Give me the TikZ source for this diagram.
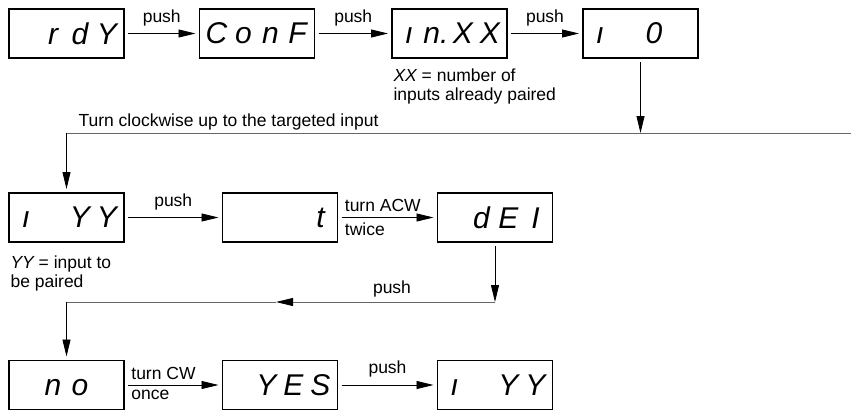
\documentclass[tikz,border=0pt]{standalone}
\usepackage{fontspec}
\setmainfont{Liberation Sans}
\usetikzlibrary{arrows.meta}
\newcommand\seg[1]{\makebox[27pt]{#1}}
\newcommand\disp[4]{{\fontsize{30}{30}\selectfont\itshape\vphantom{0}\seg{#1}\seg{#2}\seg{#3}\seg{#4}}}
\begin{document}
\begin{tikzpicture}[x=1pt,y=-1pt,
	>={Triangle[length=17pt,width=8pt,color=black]},
	every node/.style={font=\fontsize{17.5}{19}\selectfont},
	screen/.style={draw,line width=1.2pt,minimum width=115pt,minimum height=49pt,inner sep=0pt,outer sep=4pt},
	flow/.style={->,line width=0.8pt},
	back/.style={line width=0.8pt,draw=black!60}]
	\useasboundingbox (0,0) rectangle (851,410);
	\node[screen] (rdy) at (66.5,33.5) {\disp{}{r}{d}{Y}};
	\node[screen] (conf) at (257,33.5) {\disp{C}{o}{n}{F}};
	\node[screen] (inxx) at (449.5,33.5) {\disp{ı}{n.}{X}{X}};
	\node[screen] (izero) at (640.5,33.5) {\disp{ı}{}{0}{}};
	\node[screen] (iyy) at (66.5,217.5) {\disp{ı}{}{Y}{Y}};
	\node[screen] (tbox) at (280,217.5) {\disp{}{}{}{t}};
	\node[screen] (del) at (495,217.5) {\disp{}{d}{E}{I}};
	\node[screen] (no) at (66.5,385) {\disp{}{n}{o}{}};
	\node[screen] (yes) at (280,385) {\disp{}{Y}{E}{S}};
	\node[screen] (iyyb) at (495,385) {\disp{ı}{}{Y}{Y}};
	\draw[flow] (rdy) -- node[above=4pt] (p1) {push} (conf);
	\draw[flow] (conf) -- node[above=4pt] (p2) {push} (inxx);
	\draw[flow] (inxx) -- node[above=4pt] (p3) {push} (izero);
	\node[anchor=base west,align=left] (xxnote) at (390,100) {{\itshape XX} = number of\\inputs already paired};
	\coordinate (k1) at (851,133);
	\draw[flow] (izero) -- (izero |- k1);
	\draw[back] (k1) -- (iyy |- k1);
	\draw[flow] (iyy |- k1) -- (iyy);
	\node[anchor=base west] (turnnote) at (75,126) {Turn clockwise up to the targeted input};
	\draw[flow] (iyy) -- node[above=4pt] (p4) {push} (tbox);
	\draw[flow] (tbox) -- (del)
		node[pos=0,anchor=south west,inner sep=1pt,xshift=2pt,yshift=4pt] (acw) {turn ACW}
		node[pos=0,anchor=north west,inner sep=1pt,xshift=2pt,yshift=-4pt] (twice) {twice};
	\node[anchor=base west,align=left] (yynote) at (7,287) {{\itshape YY} = input to\\be paired};
	\coordinate (k2) at (276,302);
	\draw[flow] (del) -- (del |- k2);
	\draw[back,->] (del |- k2) -- (k2);
	\draw[back] (k2) -- (no |- k2);
	\draw[flow] (no |- k2) -- (no);
	\node[above=1pt] (p5) at (392,302) {push};
	\draw[flow] (no) -- (yes)
		node[pos=0,anchor=south west,inner sep=1pt,xshift=2pt,yshift=4pt] (cw) {turn CW}
		node[pos=0,anchor=north west,inner sep=1pt,xshift=2pt,yshift=-4pt] (once) {once};
	\draw[flow] (yes) -- node[above=4pt] (p6) {push} (iyyb);
\end{tikzpicture}
\end{document}
